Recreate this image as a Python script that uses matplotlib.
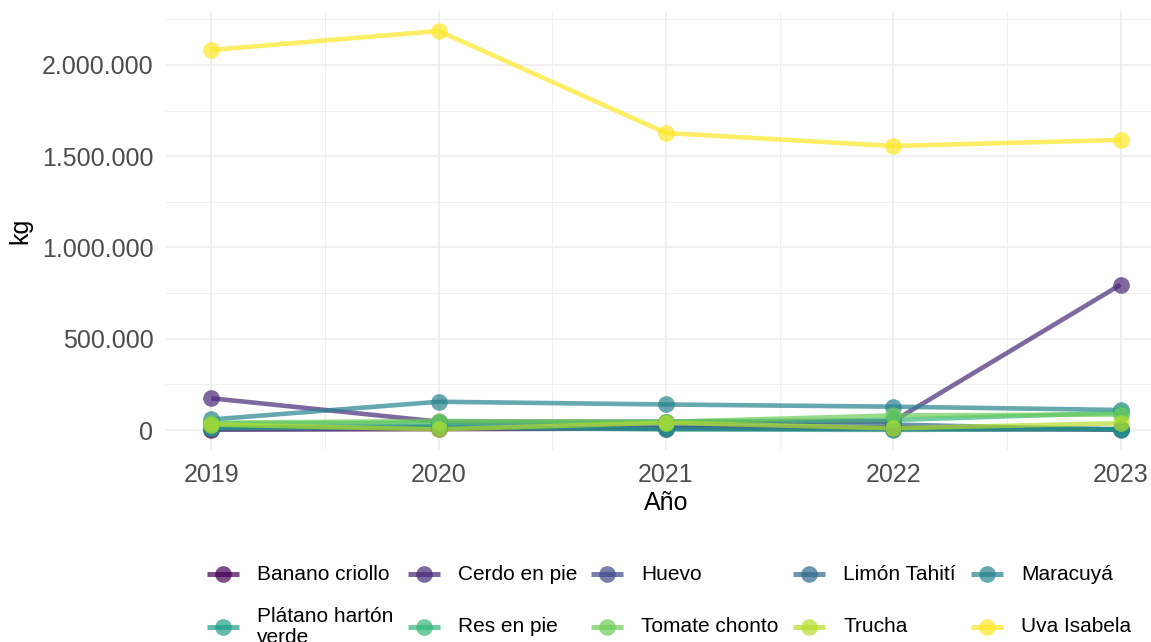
import matplotlib
matplotlib.use("Agg")
import matplotlib.pyplot as plt
from matplotlib.lines import Line2D
from matplotlib.ticker import FuncFormatter, MultipleLocator

plt.rcParams['font.family'] = ['Liberation Sans', 'DejaVu Sans']

# datos (kg por año)
years = [2019, 2020, 2021, 2022, 2023]
products = ['Banano criollo', 'Cerdo en pie', 'Huevo', 'Limón Tahití', 'Maracuyá',
            'Plátano hartón\nverde', 'Res en pie', 'Tomate chonto', 'Trucha', 'Uva Isabela']
banano = [2000, 5000, 8000, 6000, 3000]
cerdo = [174000, 46000, 45000, 48000, 796000]
huevo = [8000, 10000, 12000, 15000, 5000]
limon = [15000, 20000, 25000, 30000, 2000]
maracuya = [58000, 155000, 140000, 128000, 110000]
platano = [10000, 15000, 3000, 1000, 5000]
res = [35000, 40000, 45000, 55000, 95000]
tomate = [40000, 50000, 45000, 80000, 85000]
trucha = [30000, 4000, 40000, 10000, 37000]
uva = [2082000, 2186000, 1627000, 1556000, 1589000]
series = [banano, cerdo, huevo, limon, maracuya, platano, res, tomate, trucha, uva]

# viridis discreto (10)
colors = ['#440154', '#482878', '#3E4A89', '#31688E', '#26828E',
          '#1F9E89', '#35B779', '#6DCD59', '#B4DE2C', '#FDE725']

W, H = 1151, 642
fig = plt.figure(figsize=(W / 100, H / 100), dpi=100)
ax = fig.add_axes([166 / W, 1 - 450 / H, 1000 / W, 439 / H])

for vals, c in zip(series, colors):
    ax.plot(years, vals, color=c, lw=3.3, alpha=0.7, solid_capstyle='butt', zorder=3)
for vals, c in zip(series, colors):
    ax.plot(years, vals, 'o', color=c, ms=12, alpha=0.7, mec='none', zorder=4)

ax.set_xlim(2018.8, 2023.2)
ax.set_ylim(-109300, 2295300)
ax.xaxis.set_major_locator(MultipleLocator(1))
ax.xaxis.set_minor_locator(MultipleLocator(0.5))
ax.yaxis.set_major_locator(MultipleLocator(500000))
ax.yaxis.set_minor_locator(MultipleLocator(250000))
ax.yaxis.set_major_formatter(FuncFormatter(lambda v, p: f"{int(v):,}".replace(",", ".")))

ax.grid(True, which='major', color='#EBEBEB', lw=1.1)
ax.grid(True, which='minor', color='#EBEBEB', lw=0.55)
ax.set_axisbelow(True)
for s in ax.spines.values():
    s.set_visible(False)
ax.tick_params(which='both', length=0)
ax.tick_params(axis='x', labelsize=18, labelcolor='#4D4D4D', pad=9)
ax.tick_params(axis='y', labelsize=18, labelcolor='#4D4D4D', pad=9)

ax.set_xlabel('Año', fontsize=18, labelpad=3)
ax.set_ylabel('kg', fontsize=18, labelpad=7)

# leyenda (2 filas x 5 columnas, orden por filas)
key_x = [223, 424, 607, 809, 987]
row_y = [574, 627]
for i, (name, c) in enumerate(zip(products, colors)):
    x = key_x[i % 5]
    y = row_y[i // 5]
    fy = 1 - y / H
    fig.add_artist(Line2D([(x - 16) / W, (x + 16) / W], [fy, fy], color=c, lw=3.6,
                          alpha=0.7, solid_capstyle='butt'))
    fig.add_artist(Line2D([x / W], [fy], marker='o', color=c, ms=12, alpha=0.7, mec='none'))
    fig.text((x + 34) / W, fy, name, fontsize=15, va='center', ha='left', linespacing=1.15)

fig.savefig('out.png', dpi=100)
